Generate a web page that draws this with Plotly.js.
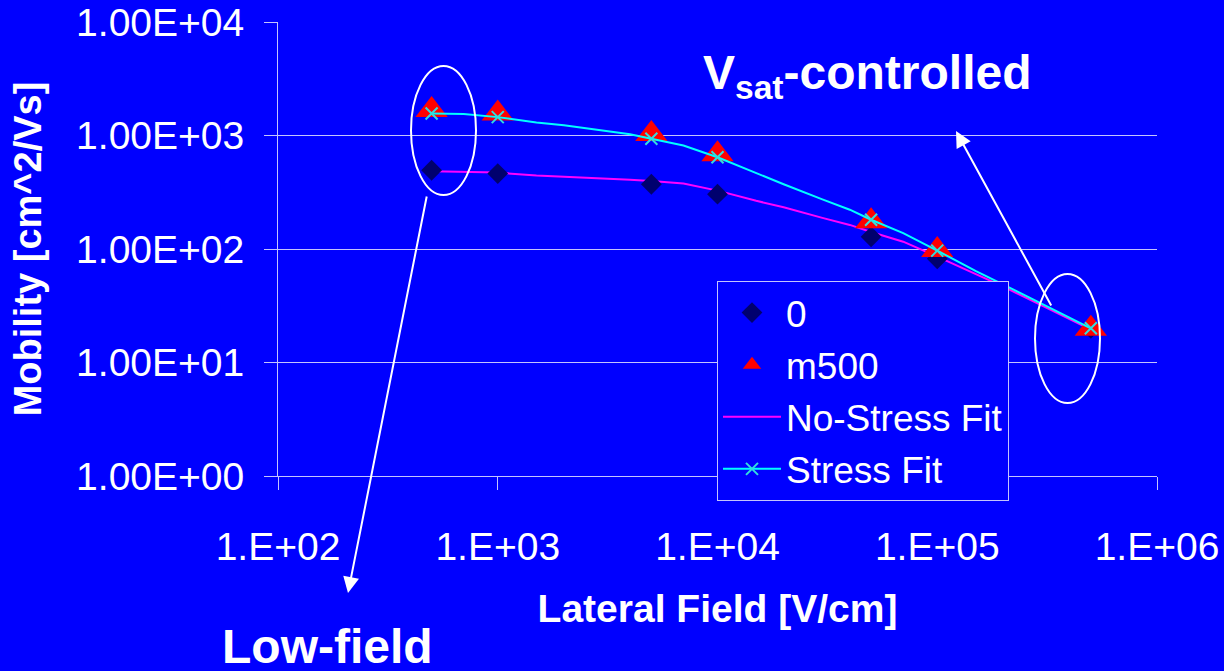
<!DOCTYPE html>
<html>
<head>
<meta charset="utf-8">
<script src="https://cdn.plot.ly/plotly-3.0.1.min.js"></script>
<style>
  html, body { margin: 0; padding: 0; background: #0000FF; }
  #chart { width: 1224px; height: 671px; }
</style>
</head>
<body>
<div id="chart"></div>
<script>
// ---- data ----
const fieldX = [500, 1000, 5000, 10000, 50000, 100000, 500000];
const mobility0 = [494, 462, 372, 304, 128, 82, 20];
const mobilityM500 = [1680, 1560, 1030, 685, 176, 98, 19.8];
const fitX = [500, 700, 1000, 1500, 2000, 3000, 4000, 5000, 7000, 10000, 15000, 20000,
              30000, 40000, 50000, 70000, 100000, 150000, 200000, 300000, 500000];
const noStressFit = [484, 481, 471, 444, 431, 419, 408, 398, 377, 327, 266, 233,
                     188, 163, 141, 116, 85.7, 59.7, 46.6, 31.7, 19.5];
const stressFit = [1560, 1549, 1452, 1300, 1230, 1112, 1026, 936, 815, 643, 465, 372,
                   274, 222, 181, 138, 96.8, 63.9, 48.5, 32.7, 20.0];
const xTickVals = [100, 1000, 10000, 100000, 1000000];
const xTickText = ["1.E+02", "1.E+03", "1.E+04", "1.E+05", "1.E+06"];
const yTickVals = [1, 10, 100, 1000, 10000];
const yTickText = ["1.00E+00", "1.00E+01", "1.00E+02", "1.00E+03", "1.00E+04"];

// ---- geometry helpers (pixel -> paper) ----
const W = 1224, H = 671;
const M = { l: 278, r: 67, t: 22, b: 195 };
const PW = W - M.l - M.r, PH = H - M.t - M.b;
const px = v => (v - M.l) / PW;
const py = v => (H - M.b - v) / PH;

const FONT = "Liberation Sans, Arial, sans-serif";
const BLUE = "#0000FF";
const GRID = "#C4C4FF";

const stressMarkerColors = fitX.map(x => fieldX.includes(x) ? "#33DDDD" : "rgba(0,0,0,0)");

const traces = [
  { x: fitX, y: noStressFit, name: "No-Stress Fit", mode: "lines",
    line: { color: "#FF00FF", width: 2 }, legendrank: 3, legendgroup: "c" },
  { x: fieldX, y: mobility0, name: "0", mode: "markers",
    marker: { symbol: "diamond", size: 16, color: "#00006E" }, legendrank: 1, legendgroup: "a" },
  { x: fieldX, y: mobilityM500, name: "m500", mode: "markers",
    marker: { symbol: "triangle-up", size: 28, color: "#FF0000" }, legendrank: 2, legendgroup: "b" },
  { x: fitX, y: stressFit, name: "Stress Fit", mode: "lines+markers",
    line: { color: "#00FFFF", width: 2 },
    marker: { symbol: "x-thin-open", size: 12, color: stressMarkerColors, line: { width: 2 } },
    legendrank: 4, legendgroup: "d" }
];

const layout = {
  width: W, height: H,
  margin: { l: M.l, r: M.r, t: M.t, b: M.b, pad: 0 },
  paper_bgcolor: BLUE, plot_bgcolor: BLUE,
  font: { family: FONT, color: "#FFFFFF" },
  showlegend: true,
  legend: {
    x: px(717), y: py(281), xanchor: "left", yanchor: "top",
    bgcolor: BLUE, bordercolor: GRID, borderwidth: 1,
    font: { size: 37, color: "#FFFFFF", family: FONT },
    traceorder: "grouped", tracegroupgap: 1, itemwidth: 58
  },
  xaxis: {
    type: "log", range: [2, 6],
    tickmode: "array", tickvals: xTickVals, ticktext: xTickText,
    showgrid: false, zeroline: false,
    showline: true, linecolor: GRID, linewidth: 1,
    ticks: "outside", ticklen: 13, tickcolor: GRID, tickwidth: 1,
    tickfont: { size: 39, color: "#FFFFFF", family: FONT },
    ticklabelstandoff: 23,
    title: { text: "<b>Lateral Field [V/cm]</b>", font: { size: 39, color: "#FFFFFF", family: FONT }, standoff: 27 }
  },
  yaxis: {
    type: "log", range: [0, 4],
    tickmode: "array", tickvals: yTickVals, ticktext: yTickText,
    showgrid: true, gridcolor: GRID, gridwidth: 1, zeroline: false,
    showline: true, linecolor: GRID, linewidth: 1,
    ticks: "outside", ticklen: 13, tickcolor: GRID, tickwidth: 1,
    tickfont: { size: 39, color: "#FFFFFF", family: FONT },
    ticklabelstandoff: 12,
    title: { text: "<b>Mobility [cm^2/Vs]</b>", font: { size: 38, color: "#FFFFFF", family: FONT }, standoff: 22 }
  },
  shapes: [
    { type: "circle", xref: "paper", yref: "paper",
      x0: px(411), x1: px(476), y0: py(195), y1: py(66),
      line: { color: "#FFFFFF", width: 2 } },
    { type: "circle", xref: "paper", yref: "paper",
      x0: px(1035), x1: px(1100), y0: py(403), y1: py(274),
      line: { color: "#FFFFFF", width: 2 } }
  ],
  annotations: [
    { xref: "paper", yref: "paper", x: px(348), y: py(593), ax: 427 - 348, ay: 195 - 593,
      text: "", showarrow: true, arrowhead: 2, arrowsize: 1.6, arrowwidth: 2, arrowcolor: "#FFFFFF" },
    { xref: "paper", yref: "paper", x: px(956), y: py(131), ax: 1052 - 956, ay: 307 - 131,
      text: "", showarrow: true, arrowhead: 2, arrowsize: 1.6, arrowwidth: 2, arrowcolor: "#FFFFFF" },
    { xref: "paper", yref: "paper", x: px(220), y: py(646), xanchor: "left", yanchor: "middle",
      text: "<b>Low-field</b>", showarrow: false,
      font: { size: 48, color: "#FFFFFF", family: FONT } },
    { xref: "paper", yref: "paper", x: px(701), y: py(76), xanchor: "left", yanchor: "middle",
      text: "<b>V<sub>sat</sub>-controlled</b>", showarrow: false,
      font: { size: 48, color: "#FFFFFF", family: FONT } }
  ]
};

Plotly.newPlot("chart", traces, layout, { displayModeBar: false, staticPlot: true });
</script>
</body>
</html>
